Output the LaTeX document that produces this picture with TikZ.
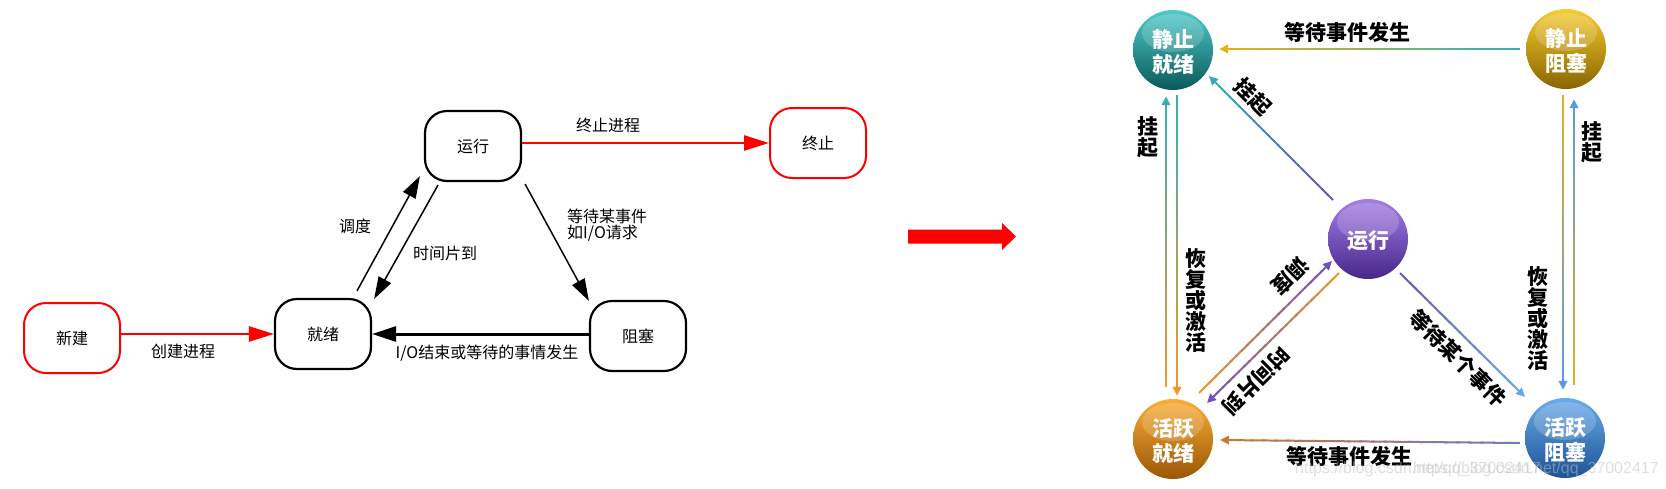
\documentclass[tikz,border=0pt]{standalone}
\usepackage{fontspec}
\newfontfamily\cjk{Noto Sans CJK SC}
\newfontfamily\wmfont{Liberation Sans}
\usetikzlibrary{arrows.meta,calc}
\definecolor{cteal}{HTML}{35AFB5}
\definecolor{cgold}{HTML}{E3B21B}
\definecolor{corange}{HTML}{EE9A2A}
\definecolor{cpurple}{HTML}{6E55B5}
\definecolor{cblue}{HTML}{5B9BDF}
\definecolor{clblue}{HTML}{6AA6E6}
\definecolor{cbpurp}{HTML}{6D7AC8}
\definecolor{cbrown}{HTML}{C87A35}
\newcommand\gconn[4]{%
  \coordinate (gE) at ($(#2)!9pt!(#1)$);
  \foreach \k in {0,...,23}{%
    \pgfmathsetmacro\ga{\k/24}%
    \pgfmathsetmacro\gb{min(1,(\k+1)/24+0.01)}%
    \pgfmathtruncatemacro\gp{100-100*(\k+0.5)/24}%
    \draw[gline, draw=#3!\gp!#4] ($(#1)!\ga!(gE)$) -- ($(#1)!\gb!(gE)$);
  }
  \draw[gline, draw=#4, -{Triangle[length=9pt,width=8.5pt]}] (gE) -- (#2);
}
\newcommand\ballnode[6]{%
  \definecolor{bt#1}{HTML}{#3}%
  \definecolor{bm#1}{HTML}{#4}%
  \definecolor{bb#1}{HTML}{#5}%
  \node[ballshape, top color=bt#1, middle color=bm#1, bottom color=bb#1] (#1) at (#2) {};
  \fill[white, opacity=0.18] ($(#1)+(0,-17)$) ellipse [x radius=31, y radius=19];
  \node[balltxt] at ($(#1)+(0,2)$) {#6};
}
\begin{document}
\begin{tikzpicture}[x=1pt,y=-1pt,
  box/.style={draw=black, line width=2.2pt, rounded corners=22pt, minimum width=96pt, minimum height=70pt, inner sep=0pt, font=\cjk\fontsize{16}{18}\selectfont},
  redbox/.style={box, draw=red, line width=2pt},
  ltext/.style={font=\cjk\fontsize{16}{17}\selectfont, inner sep=0pt},
  redarr/.style={draw=red, line width=2.6pt, -{Triangle[length=25pt,width=15pt]}},
  blkarr/.style={draw=black, line width=1.5pt, -{Triangle[length=22pt,width=14pt]}},
  blkthick/.style={draw=black, line width=3pt, -{Triangle[length=24pt,width=15pt]}},
  gline/.style={line width=2pt, line cap=butt},
  ballshape/.style={circle, minimum size=80pt, inner sep=0pt, draw=none},
  balltxt/.style={font=\cjk\bfseries\fontsize{21}{25}\selectfont, text=white, align=center, inner sep=0pt},
  rlabel/.style={font=\cjk\bfseries\fontsize{21}{21}\selectfont, inner sep=0pt, align=center},
  wm/.style={font=\wmfont\fontsize{16}{16}\selectfont, text=black!25, opacity=0.5, inner sep=0pt, anchor=west}
]
\useasboundingbox (0,0) rectangle (1666,488);
\fill[white] (0,0) rectangle (1666,488);

% ---------------- left diagram ----------------
\node[redbox] (xj) at (72,338) {新建};
\node[box] (jx) at (323,334) {就绪};
\node[box] (yx) at (473,146) {运行};
\node[redbox] (zz) at (818,143) {终止};
\node[box] (zs) at (638,336) {阻塞};

\draw[redarr] (xj.east |- jx.west) -- (jx.west);
\node[ltext] at (183,351) {创建进程};

\draw[redarr] (yx.east |- zz.west) -- (zz.west);
\node[ltext] at (608,125) {终止进程};

\draw[blkarr] ($(jx.north)+(34,-7)$) -- ($(yx.south west)+(-4,-6)$);
\node[ltext] at (355,226) {调度};

\draw[blkarr] ($(yx.south)+(-35,3)$) -- ($(jx.north east)+(2,1)$);
\node[ltext] at (445,253) {时间片到};

\draw[blkarr] ($(yx.south east)+(3,2)$) -- ($(zs.north west)+(0,1)$);
\node[ltext, anchor=west, align=left, font=\cjk\fontsize{16}{16}\selectfont] at (567,225) {等待某事件\\如I/O请求};

\draw[blkthick] (zs.west |- jx.east) -- (jx.east);
\node[ltext] at (487,353) {I/O结束或等待的事情发生};

% big red arrow
\fill[red] (908,229.5) -- (1002,229.5) -- (1002,223) -- (1016,236.5) -- (1002,250) -- (1002,243.5) -- (908,243.5) -- cycle;

% ---------------- right diagram ----------------
\ballnode{JJ}{1173,50}{4FCACA}{1A9595}{0A5A5A}{静止\\就绪}
\ballnode{JZ}{1566,49}{F6CC30}{D6A20A}{8A6400}{静止\\阻塞}
\ballnode{YX}{1368,239}{A47EE6}{7650C4}{47278A}{运行}
\ballnode{HJ}{1173,439}{FAAE35}{E08A0C}{9A5604}{活跃\\就绪}
\ballnode{HZ}{1565,438}{6AAAEA}{3E84CE}{1C5494}{活跃\\阻塞}

% top: 静止阻塞 -> 静止就绪
\coordinate (a1) at ($(JZ.west)+(-6,0)$);
\coordinate (a2) at ($(JJ.east)+(6,-1)$);
\gconn{a1}{a2}{cteal}{cgold}
\node[rlabel] at (1347,32) {等待事件发生};

% left pair
\coordinate (b1) at ($(HJ.north)+(-7,-12)$);
\coordinate (b2) at ($(JJ.south)+(-7,6)$);
\gconn{b1}{b2}{corange}{cteal}
\node[rlabel] at (1148,137) {挂\\起};

\coordinate (c1) at ($(JJ.south)+(4,5)$);
\coordinate (c2) at ($(HJ.north)+(4,-3)$);
\gconn{c1}{c2}{cteal}{corange}
\node[rlabel] at (1196,300) {恢\\复\\或\\激\\活};

% right pair
\coordinate (d1) at ($(JZ.south)+(-3,6)$);
\coordinate (d2) at ($(HZ.north)+(-2,-8)$);
\gconn{d1}{d2}{cgold}{cblue}
\node[rlabel] at (1538,318) {恢\\复\\或\\激\\活};

\coordinate (e1) at ($(HZ.north)+(9,-13)$);
\coordinate (e2) at ($(JZ.south)+(8,10)$);
\gconn{e1}{e2}{cgold}{cblue}
\node[rlabel] at (1592,142) {挂\\起};

% 运行 -> 静止就绪
\coordinate (f1) at ($(YX)+(-35,-39)$);
\coordinate (f2) at ($(JJ)+(36,26)$);
\gconn{f1}{f2}{cpurple}{cteal}
\node[rlabel, rotate=-45] at (1253,97) {挂起};

% 活跃就绪 -> 运行 (调度)
\coordinate (g1) at ($(HJ)+(26,-46)$);
\coordinate (g2) at ($(YX)+(-36,22)$);
\gconn{g1}{g2}{corange}{cpurple}
\node[rlabel, rotate=-135] at (1290,276) {调度};

% 运行 -> 活跃就绪 (时间片到)
\coordinate (h1) at ($(YX)+(-29,34)$);
\coordinate (h2) at ($(HJ)+(34,-36)$);
\gconn{h1}{h2}{corange}{cpurple}
\node[rlabel, rotate=-135] at (1256,381) {时间片到};

% 运行 -> 活跃阻塞
\coordinate (i1) at ($(YX)+(32,34)$);
\coordinate (i2) at ($(HZ)+(-40,-41)$);
\gconn{i1}{i2}{cpurple}{clblue}
\node[rlabel, rotate=-45] at (1458,358) {等待某个事件};

% 活跃阻塞 -> 活跃就绪
\coordinate (j1) at ($(HZ)+(-45,5)$);
\coordinate (j2) at ($(HJ)+(47,1)$);
\gconn{j1}{j2}{cbpurp}{cbrown}
\node[rlabel] at (1349,456) {等待事件发生};

% watermark
\node[wm] (w1) at (1295,469) {https://blog.csdn.net/qq\_37002417};
\node[wm] (w2) at (1413,469) {https://blog.csdn.net/qq\_37002417};
\end{tikzpicture}
\end{document}
